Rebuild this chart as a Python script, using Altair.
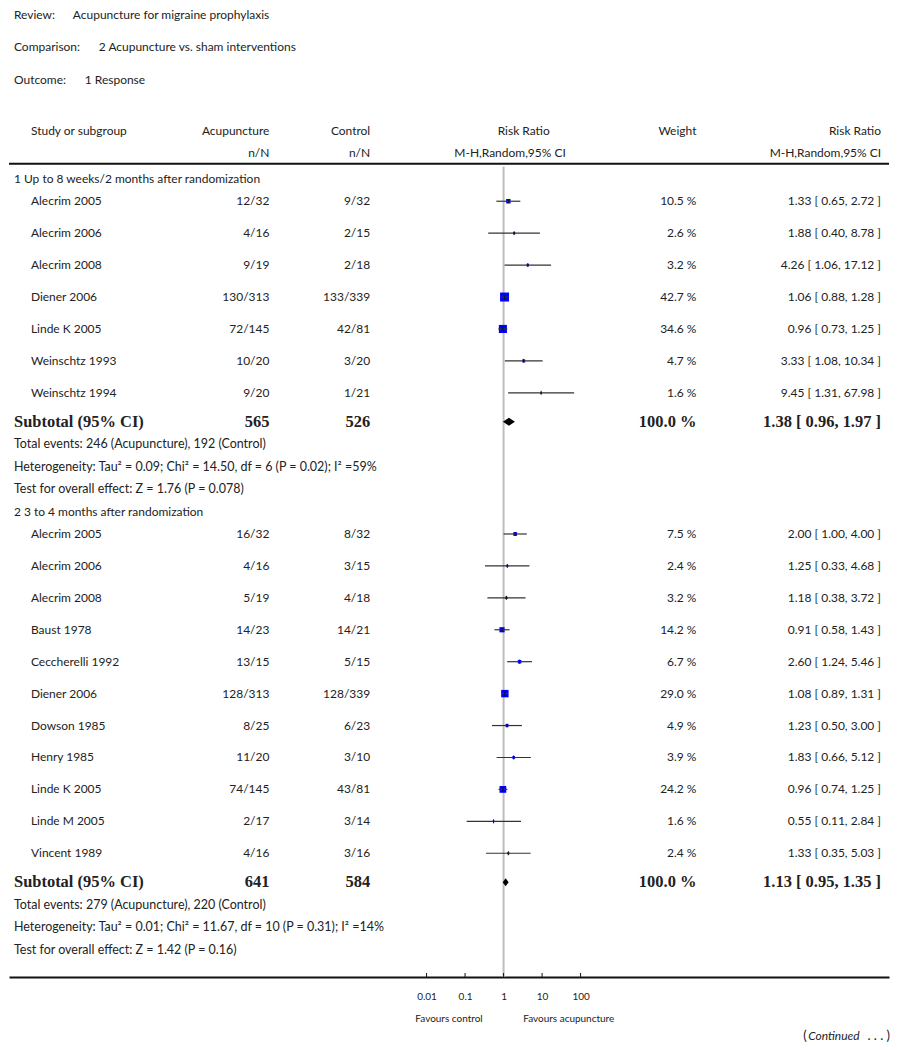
import math
import altair as alt
import pandas as pd

# ---------------- data ----------------
review = "Acupuncture for migraine prophylaxis"
comparison = "2 Acupuncture vs. sham interventions"
outcome = "1 Response"

g1_title = "1 Up to 8 weeks/2 months after randomization"
g1_study = ["Alecrim 2005", "Alecrim 2006", "Alecrim 2008", "Diener 2006",
            "Linde K 2005", "Weinschtz 1993", "Weinschtz 1994"]
g1_acu = ["12/32", "4/16", "9/19", "130/313", "72/145", "10/20", "9/20"]
g1_ctl = ["9/32", "2/15", "2/18", "133/339", "42/81", "3/20", "1/21"]
g1_weight = [10.5, 2.6, 3.2, 42.7, 34.6, 4.7, 1.6]
g1_rr = [1.33, 1.88, 4.26, 1.06, 0.96, 3.33, 9.45]
g1_lo = [0.65, 0.40, 1.06, 0.88, 0.73, 1.08, 1.31]
g1_hi = [2.72, 8.78, 17.12, 1.28, 1.25, 10.34, 67.98]
g1_tot = ["565", "526"]
g1_sub = [1.38, 0.96, 1.97]
g1_notes = ["Total events: 246 (Acupuncture), 192 (Control)",
            "Heterogeneity: Tau\u00b2 = 0.09; Chi\u00b2 = 14.50, df = 6 (P = 0.02); I\u00b2 =59%",
            "Test for overall effect: Z = 1.76 (P = 0.078)"]

g2_title = "2 3 to 4 months after randomization"
g2_study = ["Alecrim 2005", "Alecrim 2006", "Alecrim 2008", "Baust 1978",
            "Ceccherelli 1992", "Diener 2006", "Dowson 1985", "Henry 1985",
            "Linde K 2005", "Linde M 2005", "Vincent 1989"]
g2_acu = ["16/32", "4/16", "5/19", "14/23", "13/15", "128/313", "8/25", "11/20",
          "74/145", "2/17", "4/16"]
g2_ctl = ["8/32", "3/15", "4/18", "14/21", "5/15", "128/339", "6/23", "3/10",
          "43/81", "3/14", "3/16"]
g2_weight = [7.5, 2.4, 3.2, 14.2, 6.7, 29.0, 4.9, 3.9, 24.2, 1.6, 2.4]
g2_rr = [2.00, 1.25, 1.18, 0.91, 2.60, 1.08, 1.23, 1.83, 0.96, 0.55, 1.33]
g2_lo = [1.00, 0.33, 0.38, 0.58, 1.24, 0.89, 0.50, 0.66, 0.74, 0.11, 0.35]
g2_hi = [4.00, 4.68, 3.72, 1.43, 5.46, 1.31, 3.00, 5.12, 1.25, 2.84, 5.03]
g2_tot = ["641", "584"]
g2_sub = [1.13, 0.95, 1.35]
g2_notes = ["Total events: 279 (Acupuncture), 220 (Control)",
            "Heterogeneity: Tau\u00b2 = 0.01; Chi\u00b2 = 11.67, df = 10 (P = 0.31); I\u00b2 =14%",
            "Test for overall effect: Z = 1.42 (P = 0.16)"]

tick_values = [0.01, 0.1, 1, 10, 100]

# ---------------- layout (pixels) ----------------
SANS = "Lato"
SERIF = "Liberation Serif"
TXT = "#222222"
FS = 12
PLOT_W = 882
AXIS_Y = 969
X_ONE = 495.7      # pixel of RR = 1
DECADE = 38.6      # pixels per decade

lo_dom = 10 ** (-X_ONE / DECADE)
hi_dom = 10 ** ((PLOT_W - X_ONE) / DECADE)
XS = alt.Scale(type="log", domain=[lo_dom, hi_dom], range=[0, PLOT_W], nice=False)
X_AXIS = alt.Axis(values=tick_values, format="~g", ticks=False, tickSize=0,
                  domainColor="#111111", domainWidth=2, labelFont=SANS,
                  labelFontSize=10, labelColor=TXT, labelPadding=15, grid=False,
                  title=None, labelFlush=False, labelOverlap=False)


def xenc(field):
    return alt.X(f"{field}:Q", scale=XS, axis=X_AXIS)


def yenc(field="y"):
    return alt.Y(f"{field}:Q", scale=None, axis=None)


groups = [
    dict(title=g1_title, study=g1_study, acu=g1_acu, ctl=g1_ctl, w=g1_weight,
         rr=g1_rr, lo=g1_lo, hi=g1_hi, tot=g1_tot, sub=g1_sub, notes=g1_notes),
    dict(title=g2_title, study=g2_study, acu=g2_acu, ctl=g2_ctl, w=g2_weight,
         rr=g2_rr, lo=g2_lo, hi=g2_hi, tot=g2_tot, sub=g2_sub, notes=g2_notes),
]

study_rows, sub_rows, note_rows, head_rows, diamond_rows = [], [], [], [], []
y = 169.0
for gi, g in enumerate(groups):
    head_rows.append({"text": g["title"], "y": y})
    y += 22.5
    n = len(g["study"])
    for i in range(n):
        study_rows.append({
            "study": g["study"][i], "acu": g["acu"][i], "ctl": g["ctl"][i],
            "wtxt": f"{g['w'][i]:.1f} %",
            "rrtxt": f"{g['rr'][i]:.2f} [ {g['lo'][i]:.2f}, {g['hi'][i]:.2f} ]",
            "rr": g["rr"][i], "lo": g["lo"][i], "hi": g["hi"][i],
            "size": 1.9 * g["w"][i], "y": y, "y1": y - 2, "y2": y + 2,
        })
        if i < n - 1:
            y += 32
    y += 29
    est, lo, hi = g["sub"]
    sub_rows.append({"label": "Subtotal (95% CI)", "acu": g["tot"][0], "ctl": g["tot"][1],
                     "wtxt": "100.0 %", "rrtxt": f"{est:.2f} [ {lo:.2f}, {hi:.2f} ]", "y": y})
    diamond_rows += [
        {"g": gi, "x": lo, "ya": y, "yb": y},
        {"g": gi, "x": est, "ya": y - 4, "yb": y + 4},
        {"g": gi, "x": hi, "ya": y, "yb": y},
    ]
    for note in g["notes"]:
        y += 22.5
        note_rows.append({"text": note, "y": y})
    y += 22.5

studies = pd.DataFrame(study_rows)
subs = pd.DataFrame(sub_rows)
notes = pd.DataFrame(note_rows)
heads = pd.DataFrame(head_rows)
diamonds = pd.DataFrame(diamond_rows)
ticks = pd.DataFrame({"t": tick_values, "ya": AXIS_Y - 4, "yb": AXIS_Y})
one = pd.DataFrame({"x": [1.0], "ya": [157], "yb": [AXIS_Y]})

titles = pd.DataFrame({
    "label": ["Review:", "Comparison:", "Outcome:"],
    "value": [review, comparison, outcome],
    "y": [5, 37, 70],
    "vx": [64, 90, 76],
})

col_heads = pd.DataFrame([
    {"text": "Study or subgroup", "x": 22, "y": 121, "align": "left"},
    {"text": "Acupuncture", "x": 261, "y": 121, "align": "right"},
    {"text": "n/N", "x": 261, "y": 143, "align": "right"},
    {"text": "Control", "x": 362, "y": 121, "align": "right"},
    {"text": "n/N", "x": 362, "y": 143, "align": "right"},
    {"text": "Risk Ratio", "x": 542, "y": 121, "align": "right"},
    {"text": "M-H,Random,95% CI", "x": 558, "y": 143, "align": "right"},
    {"text": "Weight", "x": 689, "y": 121, "align": "right"},
    {"text": "Risk Ratio", "x": 874, "y": 121, "align": "right"},
    {"text": "M-H,Random,95% CI", "x": 874, "y": 143, "align": "right"},
])

footer = pd.DataFrame([
    {"text": "Favours control", "x": 441, "y": 1011, "align": "center", "style": "normal", "size": 10},
    {"text": "Favours acupuncture", "x": 561, "y": 1011, "align": "center", "style": "normal", "size": 10},
    {"text": "(", "x": 796, "y": 1028, "align": "left", "style": "normal", "size": 13},
    {"text": "Continued", "x": 801, "y": 1028, "align": "left", "style": "italic", "size": 12},
    {"text": ". . . )", "x": 883, "y": 1028, "align": "right", "style": "normal", "size": 13},
])


def text_at(df, field, x, align="left", font=SANS, size=FS, weight="normal", style="normal"):
    return alt.Chart(df).mark_text(
        align=align, baseline="middle", font=font, fontSize=size,
        fontWeight=weight, fontStyle=style, color=TXT
    ).encode(x=alt.value(x), y=yenc(), text=alt.Text(f"{field}:N"))


layers = []

# reference line at RR = 1
layers.append(alt.Chart(one).mark_rule(color="#bdbdbd", strokeWidth=2).encode(
    x=xenc("x"), y=yenc("ya"), y2=alt.Y2("yb")))

# header rule
layers.append(alt.Chart(one).mark_rule(color="#111111", strokeWidth=2).encode(
    x=alt.value(0), x2=alt.value(PLOT_W), y=alt.value(154)))

# axis tick marks
layers.append(alt.Chart(ticks).mark_rule(color="#111111", strokeWidth=1).encode(
    x=xenc("t"), y=yenc("ya"), y2=alt.Y2("yb")))

# study squares
layers.append(alt.Chart(studies).mark_square(color="#0000ff", opacity=1, filled=True).encode(
    x=xenc("rr"), y=yenc(), size=alt.Size("size:Q", scale=None, legend=None)))

# confidence intervals
layers.append(alt.Chart(studies).mark_rule(color="#333333", strokeWidth=1.2).encode(
    x=xenc("lo"), x2=alt.X2("hi"), y=yenc()))

# point estimate tick
layers.append(alt.Chart(studies).mark_rule(color="#111111", strokeWidth=1).encode(
    x=xenc("rr"), y=yenc("y1"), y2=alt.Y2("y2")))

# subtotal diamonds
layers.append(alt.Chart(diamonds).mark_area(color="#000000", orient="vertical", opacity=1).encode(
    x=xenc("x"), y=yenc("ya"), y2=alt.Y2("yb"), detail="g:N"))

# titles
layers.append(text_at(titles, "label", 5).encode(y=yenc()))
for _, r in titles.iterrows():
    layers.append(text_at(titles[titles["label"] == r["label"]], "value", int(r["vx"])))

# column headers
for align in ["left", "right"]:
    sub = col_heads[col_heads["align"] == align]
    for xv in sorted(sub["x"].unique()):
        layers.append(text_at(sub[sub["x"] == xv], "text", int(xv), align=align))

# group headers & notes
layers.append(text_at(heads, "text", 5))
layers.append(text_at(notes, "text", 5, size=12.5))

# study rows
layers.append(text_at(studies, "study", 22))
layers.append(text_at(studies, "acu", 261, align="right"))
layers.append(text_at(studies, "ctl", 362, align="right"))
layers.append(text_at(studies, "wtxt", 689, align="right"))
layers.append(text_at(studies, "rrtxt", 874, align="right"))

# subtotal rows
SB = dict(font=SERIF, size=16.5, weight="bold")
layers.append(text_at(subs, "label", 5, **SB))
layers.append(text_at(subs, "acu", 261, align="right", **SB))
layers.append(text_at(subs, "ctl", 362, align="right", **SB))
layers.append(text_at(subs, "wtxt", 689, align="right", **SB))
layers.append(text_at(subs, "rrtxt", 874, align="right", **SB))

# footer texts
for _, r in footer.iterrows():
    layers.append(text_at(footer[footer["text"] == r["text"]], "text", int(r["x"]),
                          align=r["align"], size=int(r["size"]), style=r["style"]))

chart = alt.layer(*layers).properties(
    width=PLOT_W, height=AXIS_Y, padding=0
).configure_view(stroke=None)

chart.save("out.html", embed_options={"renderer": "svg", "actions": False})
